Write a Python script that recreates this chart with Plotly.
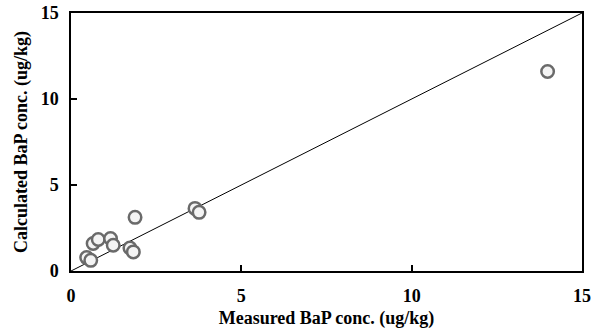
import plotly.graph_objects as go

measured = [0.46, 0.58, 0.65, 0.80, 1.16, 1.24, 1.73, 1.83, 1.88, 3.64, 3.76, 13.99]
calculated = [0.78, 0.62, 1.60, 1.83, 1.89, 1.50, 1.34, 1.11, 3.12, 3.64, 3.41, 11.6]
line_x = [0, 15]
line_y = [0, 15]
ticks = [0, 5, 10, 15]

font_family = "Liberation Serif"
bold_font = dict(family=font_family, size=18, color="black", weight="bold")

fig = go.Figure()
fig.add_trace(go.Scatter(x=line_x, y=line_y, mode="lines",
                         line=dict(color="black", width=1), showlegend=False, hoverinfo="skip"))
fig.add_trace(go.Scatter(x=measured, y=calculated, mode="markers",
                         marker=dict(size=12.5, color="#f4f4f4",
                                     line=dict(color="#6a6a6a", width=2.5)),
                         showlegend=False))

axis_common = dict(range=[0, 15], tickvals=ticks, showgrid=False, zeroline=False,
                   showline=True, linecolor="black", linewidth=1.5, mirror=True,
                   ticks="inside", ticklen=6, tickcolor="black", tickwidth=1.5,
                   tickfont=bold_font, automargin=False, ticklabeloverflow="allow")

fig.update_layout(
    width=592, height=333,
    margin=dict(l=71, r=10, t=13, b=62),
    paper_bgcolor="white", plot_bgcolor="white",
    font=dict(family=font_family, color="black"),
    xaxis=dict(**axis_common, ticklabelstandoff=8,
               title=dict(text="Measured BaP conc. (ug/kg)", font=bold_font, standoff=6)),
    yaxis=dict(**axis_common, ticklabelstandoff=7,
               title=dict(text="Calculated BaP conc. (ug/kg)", font=bold_font, standoff=8)),
)

fig.write_html("out.html", config={"displayModeBar": False},
               post_script="document.body.style.margin='0';document.body.style.overflow='hidden';")
